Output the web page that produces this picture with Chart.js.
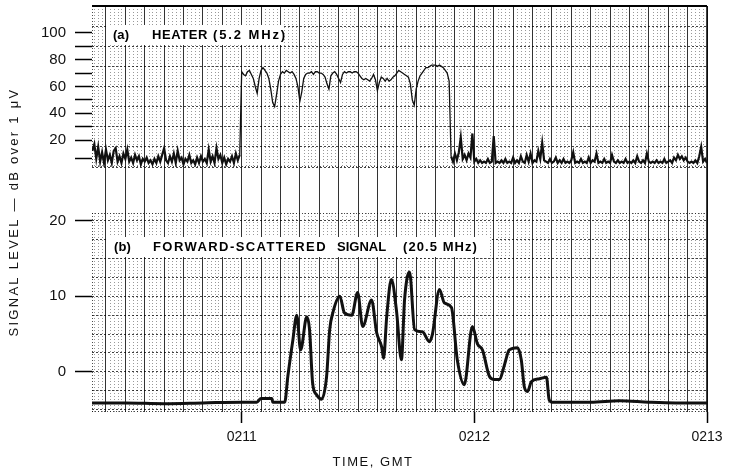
<!DOCTYPE html>
<html lang="en">
<head>
<meta charset="UTF-8">
<title>Heater and forward-scattered signal</title>
<script src="https://cdn.jsdelivr.net/npm/chart.js"></script>
<style>
  html, body { margin: 0; padding: 0; background: #fff; }
  #wrap { position: relative; width: 730px; height: 468px; }
</style>
</head>
<body>
<div id="wrap"><canvas id="signalChart"></canvas></div>
<script>
// time axis: seconds after 02:10 GMT
const timeMin = 21.4;
const timeMax = 180;
const minuteTicks = [60, 120, 180];
const minuteLabels = ['0211', '0212', '0213'];

// (a) heater 5.2 MHz -- one reading every 0.5 s starting at 21.5 s
const heaterStart = 21.5;
const heaterStep = 0.5;
const heaterLevel = [
  12, 17, 6, 15, 4, 11, 3, 13, 5, 9, 3, 12, 14, 4, 8, 3, 10, 6, 13, 4,
  7, 3, 9, 5, 8, 2, 6, 4, 7, 3, 5, 2, 6, 3, 8, 4, 9, 14, 5, 3,
  8, 4, 10, 3, 12, 5, 7, 2, 6, 4, 9, 3, 5, 2, 7, 3, 8, 4, 6, 3,
  13, 4, 8, 3, 14, 6, 9, 3, 7, 2, 6, 4, 8, 3, 10, 5, 9,
  // heater on
  71, 69, 68, 71, 72, 69, 66, 60, 55, 66,
  72, 74, 72, 70, 66, 58, 48, 45, 54, 64,
  69, 71, 70, 72, 71, 70, 71, 69, 66, 60,
  49, 56, 66, 69, 70, 70, 71, 69, 71, 71,
  70, 70, 69, 67, 62, 58, 68, 70, 71, 69,
  66, 63, 69, 71, 70, 71, 71, 70, 71, 71,
  70, 68, 66, 65, 66, 65, 64, 66, 69, 65,
  57, 63, 67, 66, 64, 66, 64, 65, 67, 68,
  70, 72, 71, 70, 69, 68, 67, 62, 50, 46,
  58, 64, 68, 70, 72, 74, 74, 75, 76, 76,
  76, 75, 76, 75, 74, 72, 70, 64,
  // heater off
  8, 4, 10, 5, 11, 22, 6, 9, 5, 10,
  7, 25, 4, 6, 3, 5, 3, 4, 3, 6,
  3, 4, 23, 3, 4, 3, 5, 3, 6, 3,
  4, 3, 7, 3, 5, 3, 8, 4, 3, 9,
  4, 10, 3, 5, 4, 12, 6, 18, 5, 4,
  3, 6, 3, 4, 7, 3, 5, 3, 6, 3,
  4, 3, 5, 11, 3, 4, 3, 6, 3, 4,
  3, 7, 3, 5, 4, 10, 3, 4, 3, 6,
  3, 4, 3, 9, 4, 3, 5, 3, 4, 3,
  6, 3, 4, 3, 5, 3, 8, 4, 3, 5,
  3, 10, 4, 3, 4, 3, 5, 3, 4, 3,
  6, 3, 4, 5, 3, 7, 5, 9, 6, 8,
  5, 7, 4, 3, 4, 3, 5, 3, 8, 15,
  4, 6, 3
];

// (b) forward-scattered signal 20.5 MHz
const scatterTime = [
  21.4, 30, 40, 50, 60, 63.9, 65, 67.8, 68.0, 71.1,
  71.9, 73.2, 74.2, 75.2, 76.8, 77.5, 78.3, 79.3, 80.6, 81.9,
  82.7, 83.5, 85.3, 86.5, 88.4, 89.9, 91.2, 93.5, 94.8, 96.1,
  96.6, 97.4, 98.6, 99.9, 101.2, 102.0, 103.3, 104.6, 106.6, 108.4,
  109.2, 111.0, 112.3, 114.1, 115.6, 117.4, 119.5, 120.8, 122.1, 123.9,
  125.2, 126.5, 127.7, 129.0, 131.1, 132.1, 132.9, 133.7, 134.7, 136.8,
  138.6, 139.3, 140.1, 150, 157.4, 165, 172, 180
];
const scatterLevel = [
  -4.1, -4.1, -4.2, -4.1, -4.0, -4.0, -3.5, -3.5, -4.0, -4.0,
  -0.6, 4.2, 7.5, 2.9, 7.3, 5.6, -1.5, -3.0, -3.6, -0.6,
  5.6, 7.8, 10.0, 7.8, 7.5, 10.5, 6.0, 9.5, 5.2, 3.3,
  1.8, 7.3, 12.2, 8.2, 1.6, 9.5, 13.2, 5.6, 5.3, 4.0,
  5.0, 10.9, 9.1, 8.5, 1.6, -1.7, 6.0, 3.7, 2.9, -0.6,
  -1.0, -1.0, 0.8, 2.9, 3.2, 1.6, -2.0, -2.6, -1.3, -0.9,
  -0.7, -3.7, -4.0, -4.0, -3.8, -4.0, -4.1, -4.1
];

// tick labels and tick marks on the two signal axes
const heaterLabelTicks = [20, 40, 60, 80, 100];
const heaterMarkTicks = [6, 20, 30, 40, 50, 60, 70, 80, 90, 100];
const scatterLabelTicks = [0, 10, 20];

const FONT = "'Liberation Sans', Arial, sans-serif";

function paperTicks(min, max, step, extra) {
  const vals = new Set(extra);
  for (let v = Math.ceil(min / step) * step; v <= max + 1e-9; v += step) vals.add(+v.toFixed(3));
  return [...vals].sort((a, b) => a - b).map(v => ({ value: v }));
}

function noPadding(s) {
  s.paddingTop = 0; s.paddingBottom = 0; s.paddingLeft = 0; s.paddingRight = 0;
}

function spacedText(ctx, text, x, y, targetWidth) {
  ctx.letterSpacing = '0px';
  const w0 = ctx.measureText(text).width;
  const sp = Math.max(0, (targetWidth - w0) / text.length);
  ctx.letterSpacing = sp + 'px';
  ctx.fillText(text, x, y);
  ctx.letterSpacing = '0px';
}

const paper = {
  id: 'paper',
  beforeDatasetsDraw(chart) {
    const { ctx, chartArea: a, scales } = chart;
    const x = scales.x;
    ctx.save();
    // fine dotted verticals, one per second, inside the two panels
    ctx.lineWidth = 1;
    ctx.setLineDash([1, 2]);
    for (const id of ['yA', 'yB']) {
      const y = scales[id];
      ctx.strokeStyle = 'rgba(0,0,0,0.4)';
      for (let t = Math.ceil(timeMin); t <= timeMax; t++) {
        if (t % 5 === 0) continue;
        const px = Math.round(x.getPixelForValue(t)) + 0.5;
        ctx.beginPath(); ctx.moveTo(px, y.top); ctx.lineTo(px, y.bottom); ctx.stroke();
      }
      // dotted left edge and panel top/bottom
      ctx.strokeStyle = 'rgba(0,0,0,0.7)';
      ctx.beginPath(); ctx.moveTo(a.left + 0.5, y.top); ctx.lineTo(a.left + 0.5, y.bottom); ctx.stroke();
      ctx.beginPath(); ctx.moveTo(a.left, y.bottom - 0.5); ctx.lineTo(a.right, y.bottom - 0.5); ctx.stroke();
      ctx.beginPath(); ctx.moveTo(a.left, y.top + 0.5); ctx.lineTo(a.right, y.top + 0.5); ctx.stroke();
    }
    ctx.setLineDash([]);
    ctx.strokeStyle = '#000';
    ctx.lineWidth = 2;
    ctx.beginPath(); ctx.moveTo(a.left, a.top); ctx.lineTo(a.right, a.top); ctx.stroke();
    ctx.lineWidth = 1.5;
    ctx.beginPath(); ctx.moveTo(a.right, a.top); ctx.lineTo(a.right, a.bottom); ctx.stroke();
    ctx.restore();
  },
  afterDatasetsDraw(chart) {
    const { ctx, chartArea: a, scales } = chart;
    ctx.save();
    ctx.textBaseline = 'middle';
    ctx.font = 'bold 13px ' + FONT;
    const labels = [
      { y: scales.yA.top + 29, box: [a.left + 16, 176, 20], parts: [['(a)', 21, 16], ['HEATER', 60, 56], ['(5.2 MHz)', 121, 74]] },
      { y: scales.yB.top + 34, box: [a.left + 16, 382, 20], parts: [['(b)', 22, 17], ['FORWARD-SCATTERED', 61, 174], ['SIGNAL', 245, 46], ['(20.5 MHz)', 311, 75]] }
    ];
    for (const l of labels) {
      ctx.fillStyle = '#fff';
      ctx.fillRect(l.box[0], l.y - l.box[2] / 2, l.box[1], l.box[2]);
      ctx.fillStyle = '#000';
      for (const [txt, dx, w] of l.parts) spacedText(ctx, txt, a.left + dx, l.y, w);
    }
    ctx.restore();
  },
  afterDraw(chart) {
    const { ctx } = chart;
    ctx.save();
    ctx.fillStyle = '#111';
    ctx.textBaseline = 'middle';
    ctx.textAlign = 'center';
    ctx.font = '13px ' + FONT;
    ctx.translate(14, 212);
    ctx.rotate(-Math.PI / 2);
    spacedText(ctx, 'SIGNAL LEVEL \u2014 dB over 1 \u03bcV', 0, 0, 249);
    ctx.restore();
    ctx.save();
    ctx.fillStyle = '#111';
    ctx.textBaseline = 'middle';
    ctx.textAlign = 'center';
    ctx.font = '13px ' + FONT;
    spacedText(ctx, 'TIME, GMT', 373, 462, 81);
    ctx.restore();
  }
};

const ctx = document.getElementById('signalChart').getContext('2d');
new Chart(ctx, {
  type: 'line',
  data: {
    datasets: [
      {
        label: 'Heater (5.2 MHz)',
        data: heaterLevel.map((v, i) => ({ x: heaterStart + i * heaterStep, y: v })),
        yAxisID: 'yA',
        borderColor: '#111',
        borderWidth: 1.3,
        pointRadius: 0,
        tension: 0,
        segment: {
          // the receiver noise floor is recorded as a dense, dark band
          borderWidth: c => (c.p0.parsed.y < 30 && c.p1.parsed.y < 30 ? 2.2 : 1.3)
        }
      },
      {
        label: 'Forward-scattered signal (20.5 MHz)',
        data: scatterTime.map((t, i) => ({ x: t, y: scatterLevel[i] })),
        yAxisID: 'yB',
        borderColor: '#111',
        borderWidth: 3,
        pointRadius: 0,
        cubicInterpolationMode: 'monotone',
        borderJoinStyle: 'round'
      }
    ]
  },
  options: {
    responsive: true,
    maintainAspectRatio: false,
    animation: false,
    layout: { padding: { top: 6, right: 23, left: 0, bottom: 0 } },
    plugins: { legend: { display: false }, tooltip: { enabled: false } },
    scales: {
      x: {
        type: 'linear',
        min: timeMin,
        max: timeMax,
        afterBuildTicks: s => { s.ticks = paperTicks(timeMin, timeMax, 5, minuteTicks); },
        afterFit: s => { s.height = 56; noPadding(s); },
        grid: {
          color: c => (c.tick && c.tick.value % 5 === 0 ? '#333' : 'transparent'),
          lineWidth: 1,
          tickLength: 11,
          tickWidth: 1.5,
          tickColor: c => (c.tick && minuteTicks.includes(c.tick.value) ? '#000' : 'transparent')
        },
        border: { display: false },
        ticks: {
          autoSkip: false,
          maxRotation: 0,
          padding: 6,
          color: '#111',
          font: { family: FONT, size: 14 },
          callback: v => { const k = minuteTicks.indexOf(v); return k >= 0 ? minuteLabels[k] : ''; }
        }
      },
      yB: {
        type: 'linear',
        position: 'left',
        stack: 'panels',
        stackWeight: 199,
        min: -5.3,
        max: 21,
        afterBuildTicks: s => { s.ticks = paperTicks(-5.3, 21, 2.5, scatterLabelTicks); },
        afterFit: s => { s.width = 92; noPadding(s); },
        grid: {
          color: c => (c.tick && Math.abs(c.tick.value / 2.5 - Math.round(c.tick.value / 2.5)) < 1e-6 ? 'rgba(0,0,0,0.75)' : 'transparent'),
          tickLength: 17,
          tickWidth: 1.5,
          tickColor: c => (c.tick && scatterLabelTicks.includes(c.tick.value) ? '#000' : 'transparent')
        },
        border: { display: false, dash: [2, 2] },
        ticks: {
          autoSkip: false,
          padding: 9,
          color: '#111',
          font: { family: FONT, size: 15 },
          callback: v => (scatterLabelTicks.includes(v) ? v : '')
        }
      },
      yG: {
        type: 'linear',
        position: 'left',
        stack: 'panels',
        stackWeight: 46,
        min: 0,
        max: 1,
        afterFit: s => { s.width = 92; noPadding(s); },
        grid: { display: false },
        border: { display: false },
        ticks: { display: false }
      },
      yA: {
        type: 'linear',
        position: 'left',
        stack: 'panels',
        stackWeight: 161,
        min: 0,
        max: 120,
        afterBuildTicks: s => { s.ticks = paperTicks(0, 120, 15, heaterMarkTicks); },
        afterFit: s => { s.width = 92; noPadding(s); },
        grid: {
          color: c => (c.tick && c.tick.value % 15 === 0 ? 'rgba(0,0,0,0.75)' : 'transparent'),
          tickLength: 17,
          tickWidth: 1.5,
          tickColor: c => (c.tick && heaterMarkTicks.includes(c.tick.value) ? '#000' : 'transparent')
        },
        border: { display: false, dash: [2, 2] },
        ticks: {
          autoSkip: false,
          padding: 9,
          color: '#111',
          font: { family: FONT, size: 15 },
          callback: v => (heaterLabelTicks.includes(v) ? v : '')
        }
      }
    }
  },
  plugins: [paper]
});
</script>
</body>
</html>
